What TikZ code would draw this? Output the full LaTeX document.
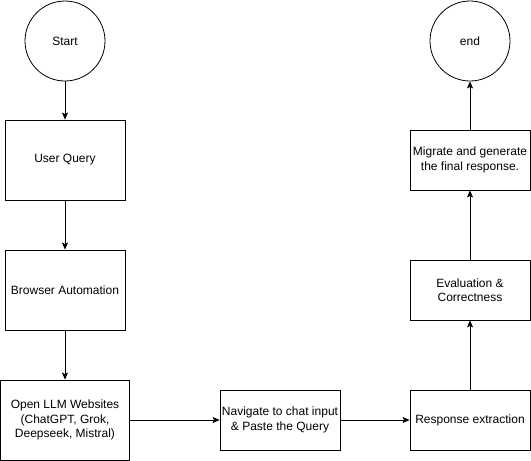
\documentclass[tikz,border=0pt]{standalone}
\usepackage{fontspec}
\setmainfont{Liberation Sans}
\usetikzlibrary{arrows.meta}

\begin{document}
\begin{tikzpicture}[x=1pt,y=-1pt,line width=0.8pt,
    >={Stealth[length=7pt,width=6pt,inset=1.5pt]},
    font=\fontsize{12}{14.5}\selectfont]

        \useasboundingbox (0,0) rectangle (531,461);

        \begin{scope}[every node/.style={circle,draw,minimum size=80pt,inner sep=0pt}]
          \node (start) at (65,41)  {Start};
          \node (end)   at (470,41) {end};
        \end{scope}

        \begin{scope}[every node/.style={rectangle,draw,align=center,inner sep=0pt,
            minimum width=120pt,minimum height=60pt}]
          \node[minimum height=80pt] (query)   at (65,160)  {User Query};
          \node[minimum height=80pt] (browser) at (65,290)  {Browser Automation};
          \node[minimum height=80pt,minimum width=129pt] (open) at (65,420)
            {Open LLM Websites\\(ChatGPT, Grok,\\Deepseek, Mistral)};
          \node (paste)    at (280,420) {Navigate to chat input\\\& Paste the Query};
          \node (extract)  at (470,420) {Response extraction};
          \node (eval)     at (470,290) {Evaluation \&\\Correctness};
          \node (migrate)  at (470,160) {Migrate and generate\\the final response.};
        \end{scope}

        \begin{scope}[every edge/.style={draw,->}]
          \path (start)   edge (query);
          \path (query)   edge (browser);
          \path (browser) edge (open);
          \path (open)    edge (paste);
          \path (paste)   edge (extract);
          \path (extract) edge (eval);
          \path (eval)    edge (migrate);
          \path (migrate) edge (end);
        \end{scope}

      \end{tikzpicture}
\end{document}
